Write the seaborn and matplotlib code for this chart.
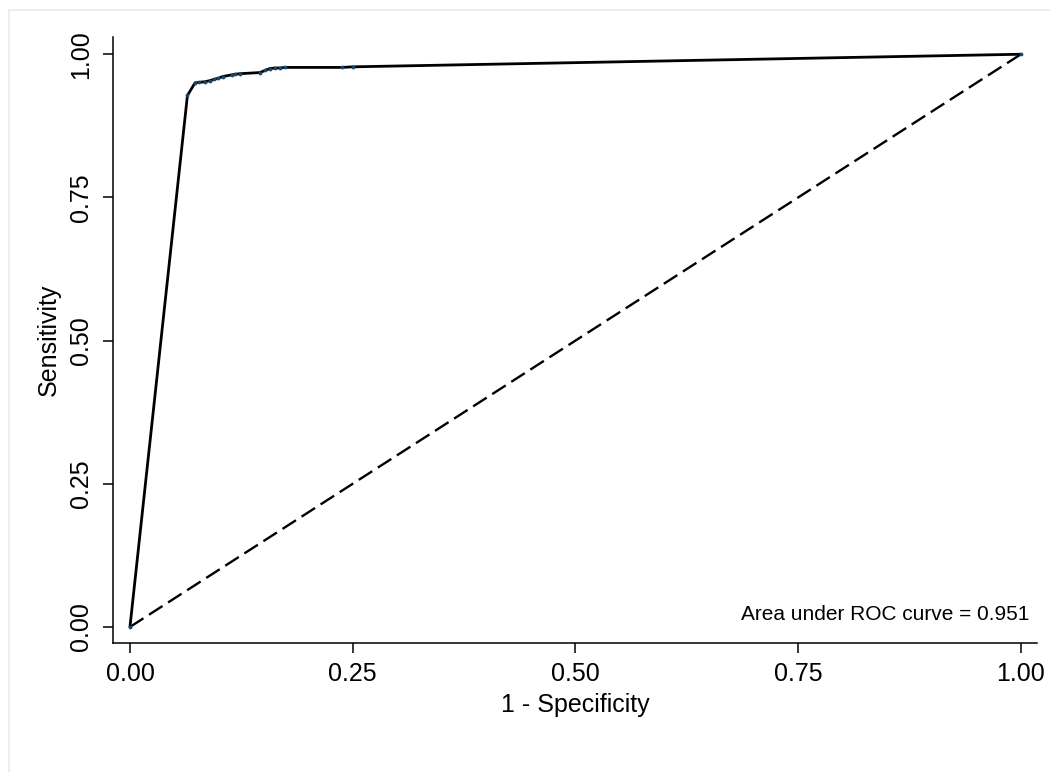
import matplotlib
matplotlib.use("Agg")
import matplotlib.pyplot as plt
from matplotlib.patches import Rectangle
import seaborn as sns
import pandas as pd

# ROC coordinates (1 - specificity, sensitivity)
fpr = [0.000, 0.0645, 0.073, 0.078, 0.084, 0.090, 0.094, 0.099, 0.104, 0.114,
       0.118, 0.123, 0.146, 0.152, 0.157, 0.163, 0.168, 0.174, 0.238, 0.250, 1.000]
tpr = [0.000, 0.928, 0.950, 0.951, 0.952, 0.954, 0.956, 0.958, 0.961, 0.964,
       0.965, 0.966, 0.968, 0.972, 0.975, 0.976, 0.976, 0.977, 0.977, 0.978, 1.000]
ref_x = [0.0, 1.0]
ref_y = [0.0, 1.0]
ticks = [0.00, 0.25, 0.50, 0.75, 1.00]
tick_labels = ["0.00", "0.25", "0.50", "0.75", "1.00"]
auc_text = "Area under ROC curve = 0.951"

sns.set_theme(style="white")
plt.rcParams["font.family"] = ["Liberation Sans", "DejaVu Sans"]

roc = pd.DataFrame({"fpr": fpr, "tpr": tpr})
ref = pd.DataFrame({"x": ref_x, "y": ref_y})

fig = plt.figure(figsize=(10.5, 7.72), dpi=100)
fig.patch.set_facecolor("white")
fig.patches.append(Rectangle((9 / 1050, -0.01), 1.05, 1 - 10 / 772 + 0.01,
                             transform=fig.transFigure, fill=False,
                             edgecolor="#e4eced", linewidth=1.2))

ax = fig.add_axes([0.1073, 0.1671, 0.8803, 0.7849])

sns.lineplot(data=ref, x="x", y="y", ax=ax, color="black", linewidth=1.7,
             dashes=False, estimator=None, sort=False)
ax.lines[-1].set_dashes((6.8, 2.8))

sns.lineplot(data=roc, x="fpr", y="tpr", ax=ax, color="black", linewidth=2.0,
             estimator=None, sort=False, marker="o", markersize=2.0,
             markerfacecolor="#1a476f", markeredgecolor="#1a476f")

ax.set_xlim(-0.0194, 1.018)
ax.set_ylim(-0.028, 1.030)
ax.set_xticks(ticks)
ax.set_xticklabels(tick_labels)
ax.set_yticks(ticks)
ax.set_yticklabels(tick_labels, rotation=90, va="center")

for side in ["top", "right"]:
    ax.spines[side].set_visible(False)
for side in ["left", "bottom"]:
    ax.spines[side].set_color("black")
    ax.spines[side].set_linewidth(1.1)

ax.tick_params(axis="both", which="major", direction="out", length=7,
               width=1.1, color="black", labelcolor="black", labelsize=18,
               pad=7, left=True, bottom=True)
ax.set_xlabel("1 - Specificity", fontsize=18, labelpad=5, color="black")
ax.set_ylabel("Sensitivity", fontsize=18, labelpad=6, color="black")

ax.text(1.01, 0.021, auc_text, ha="right", va="center", fontsize=15,
        color="black")

fig.savefig("out.png", dpi=100, facecolor="white")
